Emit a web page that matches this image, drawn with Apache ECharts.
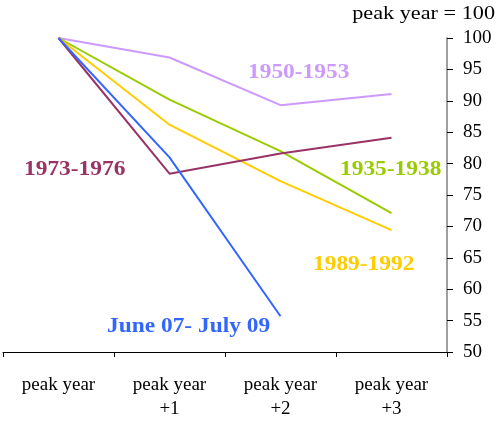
<!DOCTYPE html>
<html><head><meta charset="utf-8">
<script src="https://cdn.jsdelivr.net/npm/echarts@6/dist/echarts.min.js"></script>
<style>html,body{margin:0;padding:0;background:#fff}#c{width:497px;height:421px}</style>
</head><body><div id="c"></div>
<script>
const categories = ['peak year', 'peak year\n+1', 'peak year\n+2', 'peak year\n+3'];
const s1950 = [100, 96.9, 89.3, 91.1];
const s1935 = [100, 90.2, 82.0, 72.1];
const s1989 = [100, 86.2, 77.2, 69.4];
const s1973 = [100, 78.4, 81.6, 84.1];
const s2007 = [100, 81.0, 55.7, null];
const yTicks = [50, 55, 60, 65, 70, 75, 80, 85, 90, 95, 100];

const font = "'Liberation Serif','Times New Roman',serif";
const chart = echarts.init(document.getElementById('c'), null, {renderer: 'canvas'});
function line(name, data, color) {
  return {name, type: 'line', data, symbol: 'none', lineStyle: {color, width: 2}, itemStyle: {color}, animation: false};
}
function lbl(text, x, y, color) {
  return {type: 'text', x, y, scaleX: 1.17, style: {text, fill: color, font: 'bold 20px ' + font, textAlign: 'left', textVerticalAlign: 'top'}};
}
chart.setOption({
  animation: false,
  grid: {left: 3, right: 50, top: 38, bottom: 67, containLabel: false},
  xAxis: {
    type: 'category', data: categories, boundaryGap: true,
    axisLine: {lineStyle: {color: '#000', width: 1}},
    axisTick: {show: true, length: 5, lineStyle: {color: '#000'}},
    axisLabel: {color: '#000', fontSize: 19, fontFamily: font, margin: 21, lineHeight: 24, interval: 0}
  },
  yAxis: {
    type: 'value', position: 'right', min: yTicks[0], max: yTicks[yTicks.length - 1], interval: 5,
    axisLine: {show: true, lineStyle: {color: '#808080', width: 1.5}},
    axisTick: {show: true, length: 6, lineStyle: {color: '#000'}},
    splitLine: {show: false},
    axisLabel: {color: '#000', fontSize: 19, fontFamily: font, margin: 16}
  },
  series: [
    line('1950-1953', s1950, '#CC99FF'),
    line('1935-1938', s1935, '#99CC00'),
    line('1989-1992', s1989, '#FFCC00'),
    line('1973-1976', s1973, '#993366'),
    line('June 07- July 09', s2007, '#3366FF')
  ],
  graphic: [
    {type: 'text', x: 495, y: 5, scaleX: 1.17, style: {text: 'peak year = 100', fill: '#000', font: '19px ' + font, textAlign: 'right', textVerticalAlign: 'top'}},
    lbl('1950-1953', 248, 63, '#CC99FF'),
    lbl('1935-1938', 340, 160, '#99CC00'),
    lbl('1973-1976', 24, 160, '#993366'),
    lbl('1989-1992', 313, 255, '#FFCC00'),
    lbl('June 07- July 09', 107, 317, '#3366FF')
  ]
});
</script></body></html>
